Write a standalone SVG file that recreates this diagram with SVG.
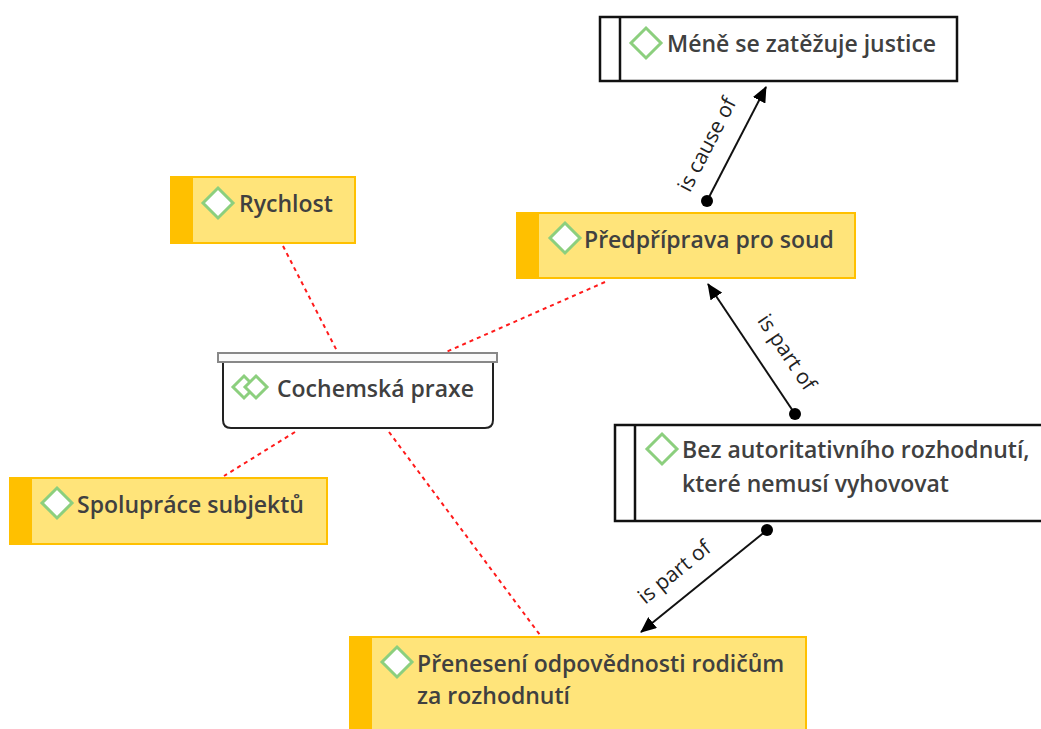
<svg xmlns="http://www.w3.org/2000/svg" width="1041" height="729" viewBox="0 0 1041 729">
<defs>
<style>
.yel{fill:#FFE47A;stroke:#FFC000;stroke-width:2}
.bar{fill:#FFC000}
.box{fill:#fff;stroke:#111;stroke-width:2.5}
.t{font-family:"Open Sans","Noto Sans",sans-serif;font-weight:600;font-size:23px;fill:#404040}
.lbl{font-family:"Open Sans","Noto Sans",sans-serif;font-size:21px;fill:#222;text-anchor:middle}
.dia{fill:#fff;stroke:#8ccf7e;stroke-width:3}
.rel{stroke:#111;stroke-width:2;fill:none;marker-end:url(#arr);marker-start:url(#dot)}
.dash{stroke:#ff1a1a;stroke-width:2;stroke-dasharray:4 4;fill:none}
</style>
<marker id="arr" viewBox="0 0 16 14" refX="15" refY="7" markerWidth="16" markerHeight="14" markerUnits="userSpaceOnUse" orient="auto">
<path d="M0,0 L16,7 L0,14 Z" fill="#000"/>
</marker>
<marker id="dot" viewBox="0 0 12 12" refX="6" refY="6" markerWidth="12" markerHeight="12" markerUnits="userSpaceOnUse">
<circle cx="6" cy="6" r="6" fill="#000"/>
</marker>
<path id="d" d="M0,-15 L15,0 L0,15 L-15,0 Z"/>
</defs>
<rect width="1041" height="729" fill="#fff"/>
<g id="connectors">
<path class="dash" d="M283,246 L337,351"/>
<path class="dash" d="M605,282 L446,352"/>
<path class="dash" d="M295,432 L224,476"/>
<path class="dash" d="M389,432 L540,635"/>
<path class="rel" d="M707,201 L766,87"/>
<path class="rel" d="M795,414 L708,284"/>
<path class="rel" d="M767,530 L641,632"/>
<text class="lbl" transform="translate(708,145) rotate(-62.6)" y="6">is cause of</text>
<text class="lbl" transform="translate(786,353) rotate(56)" y="6">is part of</text>
<text class="lbl" transform="translate(675,573) rotate(-39)" y="6">is part of</text>
</g>
<g id="n-mene">
<rect class="box" x="600" y="17" width="357" height="64"/>
<line x1="620" y1="17" x2="620" y2="81" stroke="#111" stroke-width="2.5"/>
<use href="#d" class="dia" x="646" y="43"/>
<text class="t" x="667" y="52">Méně se zatěžuje justice</text>
</g>
<g id="n-rychlost">
<rect class="yel" x="171" y="177" width="184" height="66"/>
<rect class="bar" x="171" y="177" width="22" height="66"/>
<use href="#d" class="dia" x="218" y="203"/>
<text class="t" x="239" y="212">Rychlost</text>
</g>
<g id="n-predpriprava">
<rect class="yel" x="517" y="213" width="338" height="65"/>
<rect class="bar" x="517" y="213" width="22" height="65"/>
<use href="#d" class="dia" x="565" y="238"/>
<text class="t" x="584" y="248">Předpříprava pro soud</text>
</g>
<g id="n-cochemska">
<path d="M223,361 L223,420 Q223,428 231,428 L485,428 Q493,428 493,420 L493,361" fill="#fff" stroke="#222" stroke-width="2"/>
<rect x="218" y="353" width="279" height="9" fill="#fafafa" stroke="#888" stroke-width="2"/>
<path d="M244,376 L255,387 L244,398 L233,387 Z" fill="#fff" stroke="#8ccf7e" stroke-width="3"/>
<path d="M256,376 L267,387 L256,398 L245,387 Z" fill="#fff" stroke="#8ccf7e" stroke-width="3"/>
<text class="t" x="277" y="397">Cochemská praxe</text>
</g>
<g id="n-bez">
<rect class="box" x="615" y="425" width="432" height="96"/>
<line x1="635" y1="425" x2="635" y2="521" stroke="#111" stroke-width="2.5"/>
<use href="#d" class="dia" x="662" y="449"/>
<text class="t" x="682" y="458">Bez autoritativního rozhodnutí,</text>
<text class="t" x="682" y="492">které nemusí vyhovovat</text>
</g>
<g id="n-spoluprace">
<rect class="yel" x="10" y="478" width="317" height="66"/>
<rect class="bar" x="10" y="478" width="22" height="66"/>
<use href="#d" class="dia" x="57" y="503"/>
<text class="t" x="77" y="513">Spolupráce subjektů</text>
</g>
<g id="n-preneseni">
<rect class="yel" x="350" y="637" width="456" height="100"/>
<rect class="bar" x="350" y="637" width="22" height="100"/>
<use href="#d" class="dia" x="397" y="662"/>
<text class="t" x="417" y="672">Přenesení odpovědnosti rodičům</text>
<text class="t" x="417" y="704">za rozhodnutí</text>
</g>
</svg>
